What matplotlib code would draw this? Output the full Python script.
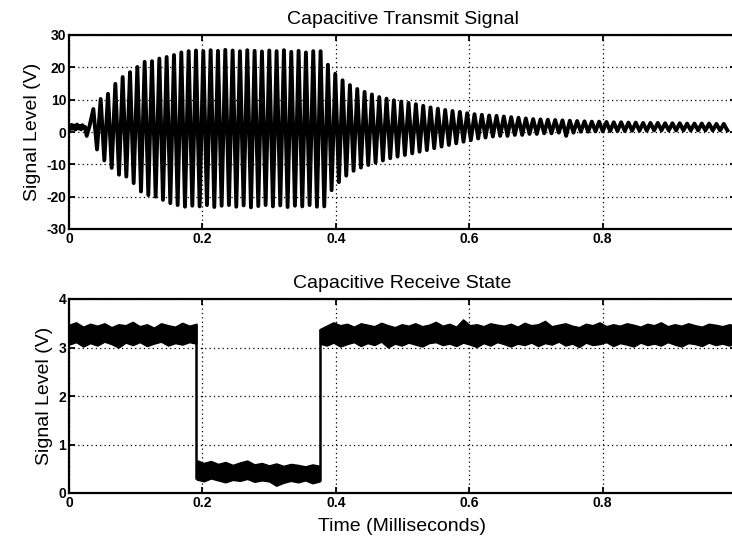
"""Capacitive transmit / receive traces, MATLAB-style two-panel figure"""

import numpy as np
import matplotlib
matplotlib.use("Agg")
import matplotlib.pyplot as plt

plt.rcParams["font.family"] = ["Liberation Sans", "DejaVu Sans"]
plt.rcParams["axes.unicode_minus"] = False

# ---- transmit signal (V), read per cycle off the scope trace ----
# flat lead-in before the burst starts
lead_time = [0.000, 0.002, 0.004, 0.006, 0.008, 0.010, 0.012, 0.014,
             0.016, 0.018, 0.020, 0.022, 0.024, 0.0265, 0.031]
lead_volts = [1.8, 0.9, 2.2, 1.0, 2.0, 0.8, 2.3, 1.1,
              1.9, 0.8, 2.1, 1.2, 1.6, -1.2, 2.0]

first_peak_ms = 0.0365
cycle_ms = 0.01099

peak_volts = [7.1, 10.2, 11.8, 14.9, 17.0, 18.5, 20.1, 21.7, 21.9, 22.7,
              23.2, 23.8, 24.6, 25.0,
              25.2, 25.0, 25.3, 25.1, 25.4, 25.2, 25.0, 25.3, 25.1, 24.9,
              25.2, 25.0, 25.3, 24.8, 25.1, 24.6, 25.0, 25.0,
              20.8, 18.0, 16.0, 14.5, 13.3, 12.4, 11.6, 10.8, 10.3, 9.8,
              9.4, 9.0, 8.6, 8.1, 7.6, 7.2, 6.8,
              6.5, 6.2, 5.8, 5.5, 5.3, 5.1, 5.0, 4.8, 4.6, 4.4,
              4.2, 4.0, 3.9, 3.8, 3.7, 3.6, 3.5, 3.4, 3.3, 3.2,
              3.2, 3.1, 3.0, 3.0, 2.9, 2.9, 2.8, 2.8, 2.8, 2.7,
              2.7, 2.7, 2.6, 2.6, 2.6, 2.6, 2.5, 2.5]
trough_volts = [-5.4, -8.8, -11.1, -13.2, -13.8, -15.8, -18.4, -19.5, -20.0,
                -21.0, -22.0, -22.6, -23.1,
                -22.8, -23.0, -22.6, -23.2, -22.8, -22.6, -23.1, -22.7, -23.3,
                -22.9, -22.6, -23.0, -22.7, -23.2, -22.8, -23.0, -22.6, -23.1,
                -23.0,
                -18.0, -15.5, -13.5, -12.0, -11.0, -10.2, -9.5, -8.8, -8.1,
                -7.6, -7.1, -6.6, -6.1, -5.6, -5.0, -4.5, -4.0,
                -3.5, -3.0, -2.5, -2.0, -1.7, -1.4, -1.2, -1.2, -0.9, -0.9,
                -0.6, -0.6, -0.4, -0.4, -0.2, -1.2, -0.2, 0.1, 0.1, 0.2,
                0.2, 0.3, 0.3, 0.3, 0.4, 0.4, 0.4, 0.5, 0.5, 0.5,
                0.5, 0.5, 0.5, 0.5, 0.5, 0.5, 0.5, 0.5]

# ---- receive state (V): noise band edges, three segments ----
rx_edges = [0.0, 0.191, 0.376, 1.0]
rx_upper = [
    [3.47, 3.52, 3.43, 3.49, 3.45, 3.50, 3.42, 3.48, 3.46, 3.53,
     3.44, 3.48, 3.41, 3.50, 3.46, 3.43, 3.51, 3.45, 3.49],
    [0.68, 0.62, 0.66, 0.60, 0.64, 0.58, 0.63, 0.67, 0.59, 0.62,
     0.57, 0.61, 0.56, 0.60, 0.58, 0.55, 0.59, 0.56],
    [3.38, 3.45, 3.52, 3.46, 3.49, 3.43, 3.50, 3.47, 3.44, 3.51,
     3.46, 3.42, 3.48, 3.45, 3.50, 3.44, 3.47, 3.53, 3.45, 3.49,
     3.43, 3.58, 3.46, 3.48, 3.44, 3.50, 3.47, 3.45, 3.49, 3.43,
     3.51, 3.46, 3.48, 3.55, 3.44, 3.47, 3.50, 3.45, 3.42, 3.49,
     3.46, 3.52, 3.44, 3.48, 3.45, 3.50, 3.47, 3.43, 3.49, 3.46,
     3.52, 3.44, 3.48, 3.45, 3.50, 3.46, 3.43, 3.49, 3.47, 3.44,
     3.48, 3.45],
]
rx_lower = [
    [3.06, 3.11, 3.02, 3.09, 3.04, 3.12, 3.07, 3.00, 3.10, 3.05,
     3.11, 3.03, 3.08, 3.12, 3.04, 3.09, 3.06, 3.11, 3.08],
    [0.28, 0.24, 0.30, 0.26, 0.22, 0.27, 0.25, 0.29, 0.23, 0.26,
     0.24, 0.15, 0.21, 0.25, 0.22, 0.26, 0.20, 0.24],
    [3.08, 3.04, 3.10, 3.02, 3.07, 3.11, 3.03, 3.09, 3.05, 3.12,
     3.00, 3.08, 3.04, 3.10, 3.06, 3.02, 3.09, 3.11, 3.05, 3.08,
     3.03, 3.10, 3.06, 3.01, 3.09, 3.04, 3.11, 3.07, 3.02, 3.08,
     3.05, 3.10, 3.03, 3.09, 3.06, 3.12, 3.04, 3.08, 3.01, 3.10,
     3.05, 3.07, 3.11, 3.03, 3.09, 3.06, 3.02, 3.10, 3.05, 3.08,
     3.04, 3.11, 3.06, 3.02, 3.09, 3.07, 3.03, 3.10, 3.05, 3.08,
     3.04, 3.09],
]

x_ticks = [0, 0.2, 0.4, 0.6, 0.8]
x_tick_labels = ["0", "0.2", "0.4", "0.6", "0.8"]
tx_y_ticks = [-30, -20, -10, 0, 10, 20, 30]
rx_y_ticks = [0, 1, 2, 3, 4]

LABEL_SIZE = 14


def style_axes(ax, yticks, ylim):
    ax.set_xlim(0, 1.0)
    ax.set_ylim(*ylim)
    ax.set_xticks(x_ticks)
    ax.set_xticklabels(x_tick_labels)
    ax.set_yticks(yticks)
    ax.grid(True, color="black", linestyle=(0, (1, 2.5)), linewidth=0.9)
    ax.tick_params(direction="in", top=True, right=True, length=4, width=1.3,
                   labelsize=10, pad=2)
    for lbl in ax.get_xticklabels() + ax.get_yticklabels():
        lbl.set_fontweight("bold")
    for sp in ax.spines.values():
        sp.set_linewidth(1.6)
    ax.set_ylabel("Signal Level (V)", fontsize=LABEL_SIZE, labelpad=4)


fig = plt.figure(figsize=(7.32, 5.45), dpi=100)
W, H = 732, 545
ax1 = fig.add_axes([69 / W, 1 - 229 / H, 667 / W, 194 / H])
ax2 = fig.add_axes([69 / W, 1 - 493 / H, 667 / W, 194 / H])

# transmit: zig-zag through the per-cycle extremes
n = len(peak_volts)
peak_t = first_peak_ms + cycle_ms * np.arange(n)
trough_t = peak_t + cycle_ms / 2
burst_t = np.column_stack([peak_t, trough_t]).ravel()
burst_v = np.column_stack([peak_volts, trough_volts]).ravel()
tx_t = np.concatenate([lead_time, burst_t])
tx_v = np.concatenate([lead_volts, burst_v])
ax1.plot(tx_t, tx_v, color="black", linewidth=2.8, solid_joinstyle="round")
style_axes(ax1, tx_y_ticks, (-30, 30))
ax1.set_title("Capacitive Transmit Signal", fontsize=LABEL_SIZE, pad=8)

# receive: noise band per segment, with vertical switching edges
for i in range(len(rx_upper)):
    t = np.linspace(rx_edges[i], rx_edges[i + 1], len(rx_upper[i]))
    ax2.fill_between(t, rx_lower[i], rx_upper[i], color="black",
                     linewidth=1.0)
for i in (1, 2):
    ax2.vlines(rx_edges[i], min(rx_lower[i - 1][-1], rx_lower[i][0]),
               max(rx_upper[i - 1][-1], rx_upper[i][0]),
               color="black", linewidth=1.8)
style_axes(ax2, rx_y_ticks, (0, 4))
ax2.set_title("Capacitive Receive State", fontsize=LABEL_SIZE, pad=8)
ax2.set_xlabel("Time (Milliseconds)", fontsize=LABEL_SIZE, labelpad=6)

fig.savefig("out.png", dpi=100)
